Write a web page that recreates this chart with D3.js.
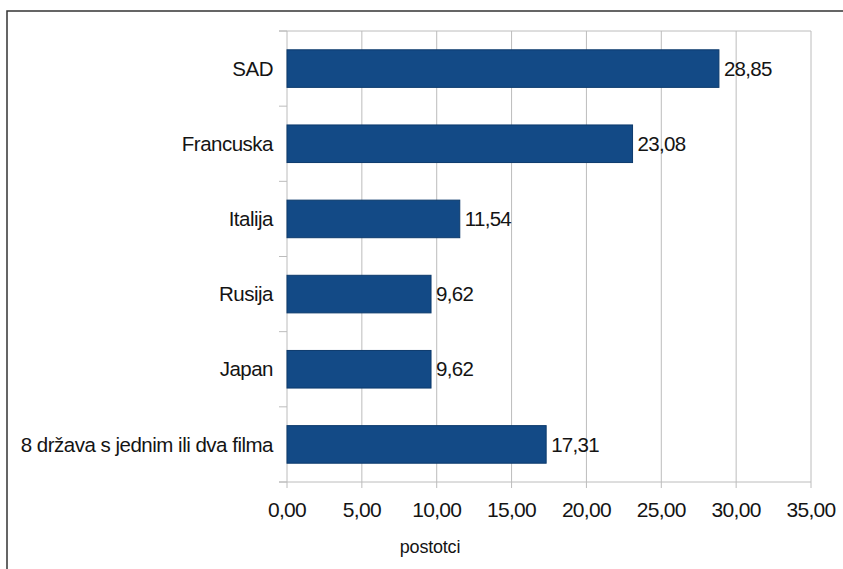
<!DOCTYPE html>
<html><head><meta charset="utf-8">
<script src="https://cdn.jsdelivr.net/npm/d3@7"></script>
<style>body{margin:0;background:#fff}svg{display:block}text{font-family:"Liberation Sans",Arial,sans-serif;fill:#141414}</style>
</head><body>
<script>
const categories = ["SAD","Francuska","Italija","Rusija","Japan","8 država s jednim ili dva filma"];
const values = [28.85,23.08,11.54,9.62,9.62,17.31];
const xTicks = [0,5,10,15,20,25,30,35];
const xTitle = "postotci";

(function(){
const W=843,H=569;
const svg=d3.select("body").append("svg").attr("width",W).attr("height",H);
svg.append("rect").attr("x",7).attr("y",11).attr("width",W).attr("height",H).attr("fill","#fff").attr("stroke","#333").attr("stroke-width",1.5);

const pL=287,pR=811,pT=31,pB=482;
const x=d3.scaleLinear().domain([0,35]).range([pL,pR]);
const y=d3.scaleBand().domain(categories).range([pT,pB]).paddingInner(0.5).paddingOuter(0.25);
const fmt=v=>v.toFixed(2).replace(".",",");

svg.append("g").selectAll("line").data(xTicks).join("line")
 .attr("x1",d=>x(d)).attr("x2",d=>x(d)).attr("y1",pT).attr("y2",pB+6)
 .attr("stroke","#bcbcbc").attr("stroke-width",1);
svg.append("line").attr("x1",pL-8).attr("x2",pR).attr("y1",pT).attr("y2",pT).attr("stroke","#bcbcbc");
const step=(pB-pT)/categories.length;
svg.append("g").selectAll("line").data(d3.range(categories.length+1)).join("line")
 .attr("x1",pL-8).attr("x2",pL).attr("y1",i=>pT+i*step).attr("y2",i=>pT+i*step).attr("stroke","#bcbcbc");
svg.append("line").attr("x1",pL-8).attr("x2",pR).attr("y1",pB).attr("y2",pB).attr("stroke","#bcbcbc");

svg.append("g").selectAll("rect").data(values).join("rect")
 .attr("x",x(0)).attr("y",(d,i)=>y(categories[i]))
 .attr("width",d=>x(d)-x(0)).attr("height",y.bandwidth())
 .attr("fill","#134a86").attr("stroke","#0c3a6c").attr("stroke-width",1);

svg.append("g").selectAll("text").data(values).join("text")
 .attr("x",d=>x(d)+5).attr("y",(d,i)=>y(categories[i])+y.bandwidth()/2)
 .attr("dy","0.35em").attr("font-size",20.5).attr("letter-spacing","-0.7px").text(fmt);

svg.append("g").selectAll("text").data(categories).join("text")
 .attr("x",273).attr("y",d=>y(d)+y.bandwidth()/2).attr("dy","0.35em")
 .attr("text-anchor","end").attr("font-size",20.5).attr("letter-spacing","-0.5px").text(d=>d);

svg.append("g").selectAll("text").data(xTicks).join("text")
 .attr("x",d=>x(d)).attr("y",517)
 .attr("text-anchor","middle").attr("font-size",21).attr("letter-spacing","-0.7px").text(fmt);

svg.append("text").attr("x",430).attr("y",553).attr("text-anchor","middle").attr("font-size",18).attr("letter-spacing","-0.2px").text(xTitle);
})();
</script>
</body></html>
